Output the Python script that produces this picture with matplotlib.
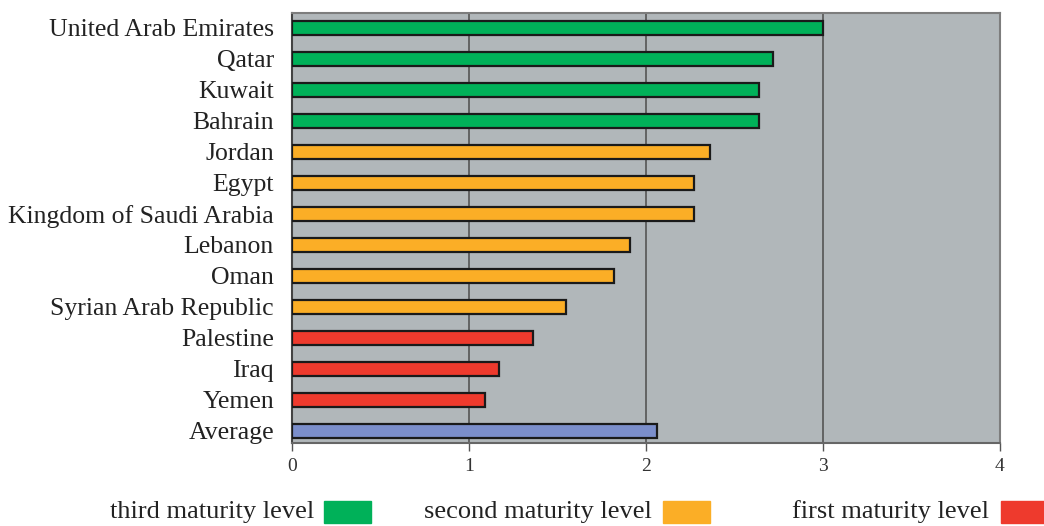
import matplotlib
matplotlib.use("Agg")
import matplotlib.pyplot as plt
from matplotlib.patches import Rectangle

countries = ["United Arab Emirates", "Qatar", "Kuwait", "Bahrain", "Jordan", "Egypt",
             "Kingdom of Saudi Arabia", "Lebanon", "Oman", "Syrian Arab Republic",
             "Palestine", "Iraq", "Yemen", "Average"]
values = [3.00, 2.72, 2.64, 2.64, 2.36, 2.27, 2.27, 1.91, 1.82, 1.55, 1.36, 1.17, 1.09, 2.06]
levels = ["third", "third", "third", "third", "second", "second", "second", "second",
          "second", "second", "first", "first", "first", "average"]
xticks = [0, 1, 2, 3, 4]
legend_labels = ["third maturity level", "second maturity level", "first maturity level"]

colors = {"third": "#00b159", "second": "#fbae26", "first": "#ee3a2d", "average": "#7b8ecb"}
serif = ["Liberation Serif", "DejaVu Serif"]

fig = plt.figure(figsize=(10.44, 5.26), dpi=100)
ax = fig.add_axes([292/1044, 1-443/526, (1000-292)/1044, (443-13)/526])
ax.set_facecolor("#b1b7ba")

ypos = list(range(len(countries)))
ax.barh(ypos, values, height=0.47, color=[colors[l] for l in levels],
        edgecolor="#1a1a1a", linewidth=1.6, zorder=3)
ax.set_ylim(len(countries) - 1 + 0.39, -0.48)
ax.set_xlim(0, 4)
ax.set_yticks(ypos)
ax.set_yticklabels(countries, fontsize=18.5, family=serif, color="#222222")
ax.tick_params(axis="y", length=0, pad=13)
ax.set_xticks(xticks)
ax.set_xticklabels([str(t) for t in xticks], fontsize=14, family=serif, color="#333333")
ax.tick_params(axis="x", length=6, width=1, color="#555555", pad=5)
for x in xticks[1:-1]:
    ax.axvline(x, color="#555555", linewidth=1.2, zorder=1)
for s in ["top", "right"]:
    ax.spines[s].set_color("#7d7d7d")
    ax.spines[s].set_linewidth(1.5)
ax.spines["left"].set_color("#444444")
ax.spines["left"].set_linewidth(1.5)
ax.spines["bottom"].set_color("#666666")
ax.spines["bottom"].set_linewidth(1.5)

# legend drawn manually
leg_colors = [colors["third"], colors["second"], colors["first"]]
text_right = [314, 652, 989]
box_left = [324, 663, 1001]
for lab, c, tr, bl in zip(legend_labels, leg_colors, text_right, box_left):
    fig.text(tr/1044, 1-512/526, lab, ha="right", va="center", fontsize=19,
             family=serif, color="#222222")
    fig.patches.append(Rectangle((bl/1044, 1-523/526), 47/1044, 22/526,
                                 transform=fig.transFigure, color=c, figure=fig))

fig.savefig("out.png", dpi=100)
